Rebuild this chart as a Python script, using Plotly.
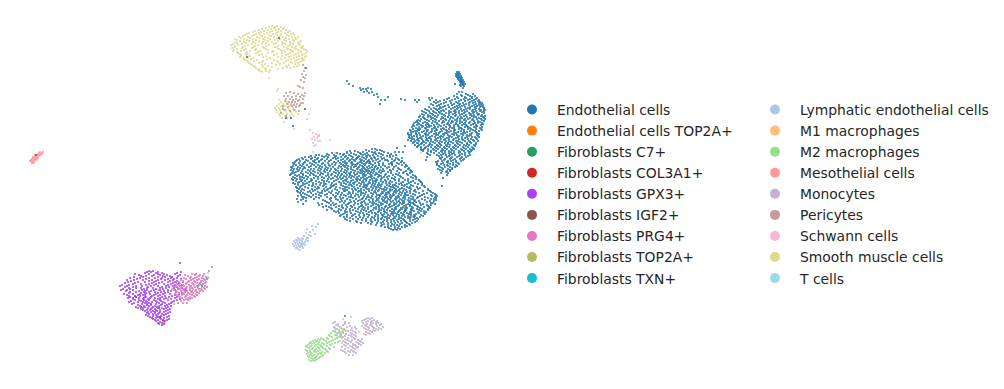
import plotly.graph_objects as go

LEFT_LEGEND = ["Endothelial cells", "Endothelial cells TOP2A+", "Fibroblasts C7+", "Fibroblasts COL3A1+",
               "Fibroblasts GPX3+", "Fibroblasts IGF2+", "Fibroblasts PRG4+", "Fibroblasts TOP2A+", "Fibroblasts TXN+"]
RIGHT_LEGEND = ["Lymphatic endothelial cells", "M1 macrophages", "M2 macrophages", "Mesothelial cells",
                "Monocytes", "Pericytes", "Schwann cells", "Smooth muscle cells", "T cells"]
COLORS = {"Endothelial cells": "#1f77b4", "Endothelial cells TOP2A+": "#ff7f0e", "Fibroblasts C7+": "#279e68",
          "Fibroblasts COL3A1+": "#d62728", "Fibroblasts GPX3+": "#aa40fc", "Fibroblasts IGF2+": "#8c564b",
          "Fibroblasts PRG4+": "#e377c2", "Fibroblasts TOP2A+": "#b5bd61", "Fibroblasts TXN+": "#17becf",
          "Lymphatic endothelial cells": "#aec7e8", "M1 macrophages": "#ffbb78", "M2 macrophages": "#98df8a",
          "Mesothelial cells": "#ff9896", "Monocytes": "#c5b0d5", "Pericytes": "#c49c94", "Schwann cells": "#f7b6d2",
          "Smooth muscle cells": "#dbdb8d", "T cells": "#9edae5"}

# (umap2, [umap1...]) rows
ENDO_LOWER = [
 (150,[366,377,380]),
 (152,[347,358,363,372,375,384,403]),
 (154,[327,340,344,354,361,365,376,381,391]),
 (156,[311,322,326,336,346,351,359,366,370,378,387,393]),
 (158,[302,312,318,333,338,348,357,364,371,375,384,396]),
 (160,[297,306,315,321,331,341,350,354,362,369,376,385,395,399]),
 (162,[295,305,314,319,334,343,352,360,367,370,378,392,401]),
 (164,[294,303,312,322,332,341,353,357,364,371,379,389,399]),
 (166,[293,302,311,320,330,339,348,356,362,369,376,385,396,407]),
 (168,[292,300,305,319,328,338,347,358,364,370,378,387,398,409]),
 (170,[291,299,308,318,327,336,345,353,360,366,372,380,390,401,410]),
 (172,[296,306,315,325,334,344,351,358,365,371,379,388,404,412]),
 (174,[291,303,313,323,332,342,350,357,364,370,377,386,396,407]),
 (176,[297,306,316,326,335,344,352,359,365,372,380,389,400,415]),
 (178,[295,304,314,324,333,343,351,361,367,374,382,392,403,413]),
 (180,[293,302,312,322,336,345,353,360,370,377,385,395,405,419]),
 (182,[299,309,319,329,339,348,355,362,369,376,383,392,403,411,421]),
 (184,[295,305,316,326,336,346,354,361,368,375,382,390,399,407,418]),
 (186,[301,312,323,333,343,352,360,367,374,381,389,396,404,413,424]),
 (188,[297,308,319,330,340,349,358,366,373,380,387,394,402,409,420]),
 (190,[304,315,327,337,347,356,364,372,379,386,392,399,406,415,428]),
 (192,[298,308,318,329,339,349,358,366,374,382,388,394,400,407,416,431]),
 (194,[305,316,327,338,348,356,365,373,381,387,393,399,405,413,424,435]),
 (196,[298,309,321,336,346,355,364,372,380,386,392,398,404,411,420,432,437]),
 (198,[306,319,331,343,353,363,371,379,385,391,397,403,409,417,428,436]),
 (200,[301,323,338,350,360,369,378,384,390,396,402,408,415,425,436]),
 (202,[298,327,340,351,362,370,379,385,391,397,403,409,416,427]),
 (204,[303,322,336,348,358,368,376,383,390,396,402,408,414,423,435]),
 (206,[326,339,351,361,371,379,386,392,398,404,410,417,428]),
 (208,[331,343,355,365,374,382,388,395,401,407,413,420,430]),
 (210,[327,341,353,364,373,381,387,394,400,406,412,419,428]),
 (212,[336,347,358,369,378,385,392,398,404,410,418,426]),
 (214,[343,355,367,376,384,391,397,403,409,416,425]),
 (216,[340,352,364,375,383,390,396,402,408,415,423]),
 (218,[350,363,374,382,389,395,401,408,417]),
 (220,[347,362,375,384,391,397,404,413]),
 (222,[357,372,383,391,398,406,415]),
 (224,[371,384,392,400,409]),
 (226,[381,391,399,407]),
 (228,[389,398]),
 (230,[393,397]),
]
ENDO_LOWER_ODD = [
 (149,[372,375]),(151,[350,355,369,382]),(153,[332,337,347,351,360,367,374,379,388]),
 (155,[316,319,329,334,343,349,356,363,368,373,383,396]),
 (157,[305,309,315,324,328,335,341,345,353,358,362,367,374,381,390]),
 (159,[299,303,311,317,322,327,336,343,347,352,356,360,366,372,378,382,392,398]),
 (161,[296,300,308,313,319,325,329,338,345,349,355,361,364,368,373,380,388,394,402]),
 (163,[293,299,304,310,316,323,328,336,340,347,351,358,362,366,369,375,383,391,397,404]),
 (165,[296,300,307,314,318,325,329,335,343,346,352,355,360,365,373,379,383,392,402,406]),
 (167,[291,298,304,309,316,322,326,333,341,345,351,354,359,363,367,372,375,381,389,394,405]),
 (169,[294,297,303,311,314,321,325,331,335,342,348,351,357,362,365,368,374,377,383,393,399,408]),
 (171,[293,298,302,310,313,320,324,330,338,341,347,355,361,363,367,369,374,382,384,391,397,406,411]),
 (173,[292,294,301,308,311,318,321,328,336,339,346,349,354,360,362,368,373,376,381,391,399,403,410]),
 (175,[290,295,299,303,310,314,320,328,331,338,341,347,350,355,363,366,371,375,379,385,393,398,408,413]),
 (177,[293,300,302,308,318,322,329,337,340,346,349,354,357,363,369,371,378,384,387,395,401,411,416]),
 (179,[292,297,300,307,311,318,328,331,338,341,347,356,358,364,366,372,376,381,388,394,399,408,416]),
 (181,[296,301,305,311,316,324,327,334,343,346,351,357,363,366,373,375,381,386,390,399,408,413,420]),
 (183,[293,298,303,307,313,321,324,332,341,344,350,353,359,364,370,373,379,386,389,396,401,409,415,422]),
 (185,[298,303,309,313,320,324,331,334,341,349,351,357,364,366,372,378,380,387,393,395,402,405,411,422]),
 (187,[296,300,305,315,318,326,331,336,345,347,354,363,365,371,376,378,385,391,393,398,407,410,417,425]),
 (189,[299,302,312,317,324,328,335,343,345,352,355,361,367,369,376,382,384,390,396,400,404,411,418,428]),
 (191,[297,301,310,313,322,325,332,344,345,353,359,361,369,375,378,384,390,395,397,403,410,414,423,430]),
 (193,[300,303,311,320,322,331,336,342,350,353,361,363,371,376,383,386,389,396,402,405,410,419,427,433]),
 (195,[301,307,313,319,325,333,341,344,351,358,361,368,377,379,385,390,394,401,406,408,415,422,431,436]),
 (197,[302,304,311,316,327,335,340,349,351,359,367,369,376,383,387,390,396,399,405,413,418,425,435]),
 (199,[297,303,314,330,336,341,347,356,362,366,373,377,382,388,395,400,405,411,413,422,431,434]),
 (201,[306,325,331,342,345,354,358,364,373,376,383,387,393,399,404,410,414,419,430,434]),
 (203,[318,329,333,344,349,355,361,365,372,374,381,387,394,400,404,411,413,420,431,433]),
 (205,[319,331,334,342,346,354,362,366,373,378,381,389,394,399,406,410,415,421,427,431]),
 (207,[323,329,336,342,347,352,359,363,368,376,379,385,390,396,403,406,412,418,424,429]),
 (209,[332,339,346,350,358,362,368,376,379,384,392,396,402,405,411,417,422,428]),
 (211,[334,338,345,350,356,361,366,371,379,384,390,394,399,405,411,414,421,424]),
 (213,[339,345,351,360,363,372,375,381,387,393,395,401,407,411,419,424]),
 (215,[341,347,353,359,364,369,378,382,388,393,399,404,411,414,421]),
 (217,[344,347,356,360,368,372,378,385,387,394,399,405,410,414,420]),
 (219,[345,353,358,366,371,378,381,387,393,399,403,410,415,418]),
 (221,[350,356,366,371,378,387,394,401,405,410,417]),
 (223,[361,368,377,381,388,395,402,407,412]),
 (225,[376,382,388,394,397,405,410]),
 (227,[385,388,395,402,405]),
 (229,[391,395,400]),
]
ENDO_UPPER = [
 (72,[457,459]),(74,[456,458,460]),(76,[456,458,461]),(78,[458,460,462]),(80,[459,461,463]),(82,[460,462,464]),
 (84,[455,461,463,465]),(86,[461,464]),(88,[463]),(92,[459,462]),(94,[457,466,473]),(96,[454,462,470,475]),
 (98,[429,432,449,458,466,472,477]),(100,[405,415,419,430,436,444,452,461,468,474,479]),
 (102,[417,434,438,446,456,470,475,480]),(104,[431,441,454,460,466,476,481]),
 (106,[437,445,457,462,472,477,481]),(108,[434,441,453,458,468,476,484]),
 (110,[427,437,443,455,464,473,481,485]),
 (112,[424,434,439,451,456,465,474,482]),
 (114,[422,432,442,453,462,471,479]),
 (116,[420,430,435,445,455,464,472,481,485]),
 (118,[424,433,443,453,462,470,479,484]),
 (120,[418,427,436,446,455,464,472,482]),
 (122,[416,425,435,444,453,462,470,480]),
 (124,[419,428,437,447,456,464,473,483]),
 (126,[414,423,431,441,450,458,467,477]),
 (128,[416,425,434,443,452,461,470,480]),
 (130,[410,419,428,437,446,455,464,473,482]),
 (132,[413,422,431,440,449,458,467,476]),
 (134,[408,416,425,434,443,452,461,470,479]),
 (136,[414,423,432,441,450,459,469,478]),
 (138,[410,420,429,438,447,456,465,476]),
 (140,[417,426,435,444,453,463,473]),
 (142,[414,424,433,442,451,460,470]),
 (144,[421,430,440,448,458,467,476]),
 (146,[418,428,438,447,456,466,475]),
 (148,[425,436,445,454,464,473]),
 (150,[423,434,443,452,462,472]),
 (152,[431,442,451,460,470]),
 (154,[428,443,452,462]),
 (156,[439,449,459,468]),
 (158,[440,451,461]),
 (160,[426,444,453,463]),
 (162,[436,447,456]),
 (164,[441,450,459]),
 (166,[439,448,457]),
 (168,[442,452]),
 (170,[440,450]),
 (172,[446]),
 (175,[447]),(178,[443]),(186,[442]),
]
ENDO_UPPER_ODD = [
 (73,[458]),(75,[457,459]),(77,[457,459,461]),(79,[458,461]),(81,[460,462]),(83,[461,463]),(85,[460,463]),
 (95,[461,468]),(97,[457,465,472]),(99,[447,455,464,470,476]),(101,[440,450,459,465,472,478]),
 (103,[436,444,451,458,463,469,473,479,482]),(105,[433,439,448,452,459,464,469,474,479,483]),
 (107,[429,440,443,449,455,460,465,470,475,480,483]),(109,[425,431,436,439,446,451,457,461,466,470,475,479,484]),
 (111,[422,429,433,441,444,449,454,459,462,467,472,476,480,484]),
 (113,[426,430,436,440,446,449,455,459,464,469,473,477,484]),
 (115,[424,428,433,438,444,449,456,460,466,470,474,478,482]),
 (117,[419,423,428,431,437,442,448,451,458,461,467,474,476,483]),
 (119,[421,425,431,435,441,445,450,457,460,465,468,473,477,481,485]),
 (121,[417,420,429,433,439,443,449,452,457,460,466,474,478,484]),
 (123,[414,418,423,427,432,437,442,448,451,456,460,465,469,475,478,482]),
 (125,[413,417,421,426,429,434,439,444,449,454,458,462,466,471,476,481]),
 (127,[412,419,422,427,429,435,438,446,450,454,459,465,468,474,476,482]),
 (129,[413,418,420,426,432,436,441,444,449,454,459,462,468,471,476,481]),
 (131,[411,415,417,424,427,432,435,442,447,451,454,461,464,470,475,479]),
 (133,[408,411,416,419,426,429,436,439,445,447,454,456,463,465,472,477]),
 (135,[409,411,417,420,426,428,436,438,444,448,454,457,463,467,471,477]),
 (137,[409,412,417,421,426,430,435,440,443,449,452,458,462,467,472,475,479]),
 (139,[412,414,418,422,427,431,436,441,445,449,454,459,462,468,471,477]),
 (141,[411,415,419,423,428,431,437,440,446,449,456,458,465,469,474,478]),
 (143,[413,417,422,426,430,435,439,445,448,453,457,462,467,471,476]),
 (145,[415,419,424,429,432,437,441,446,450,455,460,464,469,474]),
 (147,[417,421,426,431,435,440,444,449,453,458,463,468,472]),
 (149,[421,424,428,433,438,442,447,451,456,461,466,470,474]),
 (151,[423,428,431,436,441,445,449,454,459,464,468,471]),
 (153,[427,434,439,445,449,454,459,465,469]),
 (155,[430,437,441,446,450,455,460,465,470]),
 (157,[427,442,447,452,457,462,466]),
 (159,[441,445,450,455,460,464]),
 (161,[438,442,448,451,456,461]),
 (163,[437,443,448,453,458]),
 (165,[437,444,447,453,456]),
 (167,[440,445,450,455]),
 (169,[438,443,448,452]),
 (171,[442,447,450]),
 (173,[441,448]),
]
# isolated endothelial points along the thin streak and stray cells in other clusters
ENDO_STRAY_X = [347,349,353,360,361,363,364,366,367,368,369,371,372,374,377,378,381,385,388,401,380,279,247,306,286,291,293,305,36,
                 357,345,344,421,405,418,397,408,395,390,387,392,399,402]
ENDO_STRAY_Y = [81,84,86,88,90,89,92,89,91,88,93,89,92,95,94,97,100,100,97,99,104,38,57,68,118,118,126,109,155,
                 158,163,166,150,146,143,148,140,152,155,160,164,152,158]

ENDO_TOP_X = [404,412]; ENDO_TOP_Y = [207,217]
C7_X = [381,345]; C7_Y = [176,316]
COL3A1_X = [160,163]; COL3A1_Y = [317,321]
TXN_X = [198,202,207,176]; TXN_Y = [286,286,279,282]
TOP2A_X = [158,172,177,168,174,178,163]; TOP2A_Y = [290,289,295,299,304,303,322]
IGF2_X = [136,141,159,178]; IGF2_Y = [297,307,308,303]

GPX3_ROWS = [
 (271,[149,153]),(273,[145,156,162,177]),(275,[139,154,160,167,180]),
 (277,[134,143,158,165,172]),(279,[137,146,161,168,174,181]),
 (281,[131,149,156,170,177]),(283,[125,135,152,159,173,179]),
 (285,[122,129,146,154,168,175,182]),(287,[125,133,148,162,169,177]),
 (289,[123,130,144,156,163,178,186]),(291,[126,139,145,151,164,171,186]),
 (293,[129,141,146,158,165,182]),(295,[127,138,143,154,160,175]),
 (297,[130,136,146,151,162,169,177]),(299,[133,143,148,158,164,171,180]),
 (301,[131,141,146,156,161,174]),(303,[134,145,149,159,165,171]),
 (305,[138,147,151,161,167]),(307,[136,145,153,157,168]),
 (309,[141,151,155,164,170]),(311,[145,153,157,166]),
 (313,[147,155,159,168]),(315,[146,156,164]),
 (317,[150,158,167]),(319,[153,161,169]),(321,[156,165]),(323,[158,162]),(325,[162]),
 (263,[180]),
]
GPX3_EVEN = [
 (272,[147,151,158,181]),(274,[135,149,158,164,175]),(276,[141,146,152,163,170,178]),
 (278,[130,140,149,155,162,171,177]),(280,[127,134,143,152,158,165,173]),
 (282,[128,138,145,154,162,168,175,183]),(284,[133,141,149,156,164,171,178]),
 (286,[120,127,136,142,151,158,166,173,180]),(288,[129,136,141,147,153,160,166,174,182]),
 (290,[121,127,133,142,147,154,160,168,175,184]),(292,[130,136,144,149,155,161,168,176]),
 (294,[124,133,140,145,150,156,163,170,179]),(296,[129,135,140,145,152,158,165,172]),
 (298,[128,133,139,144,150,155,160,166,175]),(300,[135,139,144,149,154,160,168,177]),
 (302,[129,138,143,147,152,157,163,172]),(304,[132,142,147,151,156,162,169]),
 (306,[140,144,149,155,159,165,171]),(308,[138,143,148,152,158,162,166]),
 (310,[143,147,150,156,160,168]),(312,[148,151,155,160,164,170]),
 (314,[149,153,158,162,166]),(316,[148,153,157,161,169]),(318,[152,156,160,164]),
 (320,[155,158,163,167]),(322,[160,164]),(324,[159,164]),
]
PRG4_ROWS = [
 (267,[212]),(271,[209]),(274,[192,196,204]),(276,[188,199,203]),(278,[184,190,195,202,208]),
 (280,[181,191,197,205]),(282,[179,188,195,201,206]),
 (284,[177,186,193,199,203]),(286,[176,184,191,197,205]),
 (288,[178,186,192,198,204]),(290,[174,183,190,196,202]),
 (292,[177,185,191,197]),(294,[175,184,190,196]),(296,[179,186,194]),
 (298,[182,188,192]),(300,[184,188]),(303,[183,187]),
 (275,[185,195,200]),(277,[191,197,206]),(279,[186,193,199,204]),(281,[183,189,194,201,203]),
 (283,[180,186,192,197,200,205]),(285,[179,183,189,194,200,202]),(287,[175,181,187,190,195,202,207]),
 (289,[180,184,190,193,199,201,205]),(291,[176,181,187,192,195,200,203]),(293,[179,183,188,193,199]),
 (295,[177,182,187,192,197]),(297,[180,185,190,195]),(299,[186,190]),(301,[181]),
]
LYMPH_X = [318,316,313,312,310,315,307,309,306,311,304,308,303,306,301,305,299,303,307,297,300,302,305,295,298,301,304,
           296,299,302,294,297,300,303,296,298,301,299,302,300,298,304,308,296,294,293,302,300,297]
LYMPH_Y = [224,227,230,226,232,234,229,235,233,236,236,238,239,240,240,242,241,243,238,242,243,244,245,243,244,245,244,
           245,246,246,246,247,247,248,248,249,243,239,238,250,238,236,241,240,241,244,241,247,240]
M1_X = [343,342,359,366,346]; M1_Y = [330,337,332,332,331]
M2_ROWS = [
 (327,[340]),(329,[336,342]),(331,[333,339]),(333,[331,337,343]),(335,[329,335,340]),(337,[332,338,343]),
 (339,[318,323,328,335]),(341,[313,317,326,331,340]),(343,[310,314,322,327,335,342]),
 (345,[308,316,320,330,353]),(347,[307,310,318,322,334]),(349,[312,316,325,330]),
 (351,[307,314,318,327]),(353,[308,312,320,325]),(355,[310,314,323]),
 (357,[309,316,320]),(359,[313,317]),(361,[311,314]),
 (332,[335,341]),(336,[330,341]),(338,[321,327,337]),(340,[315,320,324,333]),(342,[311,316,319,329,338]),
 (344,[309,312,318,324,332]),(346,[306,311,315,321,327]),(348,[309,313,319,323,329]),(350,[306,310,315,320,326]),
 (352,[310,316,322,328]),(354,[307,311,318,321]),(356,[308,312,317,322]),(358,[311,315,319]),(360,[309,313,316]),
]
MONO_ROWS = [
 (318,[368,372]),(320,[364,374]),(322,[335,345,366,371,376]),(323,[333,349,363,373,378]),
 (325,[336,343,365,370,380]),(327,[334,347,355,368,373,383]),
 (329,[337,344,356,366,376,381]),(331,[335,348,353,370,375]),(333,[339,351,356,368]),
 (335,[337,349,354,366]),(337,[340,352]),(339,[345,355,362]),(341,[343,349,360]),
 (343,[346,358,363]),(345,[344,355,361]),(347,[342,352,358]),(349,[345,355]),
 (351,[343,348,353]),(353,[346,356]),(355,[349,353]),
 (319,[366,370]),(321,[362,368,372,377]),(324,[338,345,367,371,376,381]),(326,[338,350,362,366,372,377]),
 (328,[335,341,352,364,369,374,379]),(330,[339,345,351,368,373,378]),(332,[343,355,366,372]),
 (334,[341,346,352,364,370]),(336,[345,351,356]),(338,[342,348,354]),(340,[347,352,358]),
 (342,[345,351,356,361]),(344,[348,353,359]),(346,[346,350,356]),(348,[348,353,357]),(350,[341,351]),(352,[345,350,354]),
]
MESO_X = [43,41,39,42,40,38,36,39,37,35,38,34,36,33,35,32,34,31,33,36,31,34,30,33,32,38,40,37,35,33]
MESO_Y = [152,153,153,154,155,154,156,156,157,156,158,157,158,158,159,159,160,160,161,160,161,162,161,163,163,155,152,159,155,157]
PERI_X = [303,305,304,302,306,303,305,301,304,298,300,303,286,290,294,298,302,305,284,288,292,296,300,304,
          286,290,293,296,299,303,285,289,292,295,298,301,287,291,294,297,300,283,288,292,296,299,283,285,290,294,281,286,303,299]
PERI_Y = [65,68,71,74,75,77,78,80,82,86,87,88,93,92,93,94,95,93,96,96,97,96,97,96,
          99,99,100,99,100,99,101,102,102,102,101,103,104,104,105,104,105,106,107,106,107,106,109,110,111,110,113,116,103,111]
SCHWANN_X = [307,310,313,316,318,314,317,319,312,315,318,320,313,316,330,319,313,335,403,421,293,309,314]
SCHWANN_Y = [119,130,133,134,136,137,138,136,139,140,141,141,143,145,140,135,152,153,152,153,183,114,146]
SMC_ROWS = [
 (26,[272,277]),(28,[266,274,284]),(30,[259,268,276,286]),
 (32,[253,261,270,278,288]),(34,[247,256,264,273,281,291]),
 (36,[243,252,262,271,280,289]),(38,[241,250,259,268,277,286,295]),
 (40,[237,247,256,265,275,284,293]),(42,[235,244,253,263,272,282,290,299]),
 (44,[233,242,252,262,274,285,293,300]),(46,[235,245,255,266,278,288,296,303]),
 (48,[232,242,252,264,277,287,295,302]),(50,[234,244,255,268,281,290,298,306]),
 (52,[237,247,258,272,285,293,301]),(54,[240,248,262,277,288,296,304]),
 (56,[241,250,266,282,291,299,306]),(58,[243,253,270,285,294,302]),
 (60,[245,257,274,288,297,304]),(62,[248,262,278,291,300]),
 (64,[251,265,280,295]),(66,[254,268,286,297]),(68,[256,266,283,290]),
 (70,[258,270]),(72,[262,269]),(78,[269]),
 (89,[278]),(91,[277]),(100,[279,293]),(102,[281,287,292]),(104,[279,283,288,294]),(106,[277,281,285,290,296]),
 (108,[275,279,283,288,293]),(110,[276,280,284,289,295]),(112,[277,281,286,291,296]),(114,[279,283,287,292,298]),
 (116,[280,285,290,294]),(118,[282,287]),(122,[284]),(129,[294]),
 (27,[269,275,281]),(29,[262,271,279,283]),(31,[255,264,272,281,290]),(33,[249,259,267,276,285,293]),
 (35,[245,254,260,269,277,287,294]),(37,[239,248,257,265,274,283,292,298]),(39,[235,244,253,263,270,280,289,296]),
 (41,[240,249,259,268,278,286,294,301]),(43,[237,246,255,266,276,283,291,298]),(45,[231,238,248,258,269,282,290,299]),
 (47,[234,243,253,263,275,284,292,301]),(49,[237,246,256,266,279,288,296,304]),(51,[233,241,250,260,273,283,292,300,307]),
 (53,[238,246,256,268,282,290,298,306]),(55,[241,246,259,274,286,294,302]),(57,[240,248,263,278,289,297,305]),
 (59,[244,251,267,281,291,299,303]),(61,[247,254,263,277,286,295,302]),(63,[249,259,272,284,292,298]),
 (65,[252,262,276,289,299]),(67,[255,263,272,287,294]),(69,[259,265,278]),(71,[260,266]),
]
T_CELLS_X = [351,343,208]; T_CELLS_Y = [317,319,273]


def expand(rows):
    xs, ys = [], []
    for y, row in rows:
        for x in row:
            xs.append(x)
            ys.append(y)
    return xs, ys


endo_x, endo_y = expand(ENDO_LOWER + ENDO_LOWER_ODD + ENDO_UPPER + ENDO_UPPER_ODD)
endo_x += ENDO_STRAY_X
endo_y += ENDO_STRAY_Y
gx, gy = expand(GPX3_ROWS + GPX3_EVEN)
px, py = expand(PRG4_ROWS)
m2x, m2y = expand(M2_ROWS)
mox, moy = expand(MONO_ROWS)
smx, smy = expand(SMC_ROWS)

POINTS = {
    "Lymphatic endothelial cells": (LYMPH_X, LYMPH_Y),
    "Mesothelial cells": (MESO_X, MESO_Y),
    "Smooth muscle cells": (smx, smy),
    "Pericytes": (PERI_X, PERI_Y),
    "Schwann cells": (SCHWANN_X, SCHWANN_Y),
    "Monocytes": (mox, moy),
    "M2 macrophages": (m2x, m2y),
    "Fibroblasts GPX3+": (gx, gy),
    "Fibroblasts PRG4+": (px, py),
    "Endothelial cells": (endo_x, endo_y),
    "Endothelial cells TOP2A+": (ENDO_TOP_X, ENDO_TOP_Y),
    "Fibroblasts C7+": (C7_X, C7_Y),
    "Fibroblasts COL3A1+": (COL3A1_X, COL3A1_Y),
    "Fibroblasts IGF2+": (IGF2_X, IGF2_Y),
    "Fibroblasts TOP2A+": (TOP2A_X, TOP2A_Y),
    "Fibroblasts TXN+": (TXN_X, TXN_Y),
    "M1 macrophages": (M1_X, M1_Y),
    "T cells": (T_CELLS_X, T_CELLS_Y),
}

fig = go.Figure()
for name, (x, y) in POINTS.items():
    fig.add_trace(go.Scatter(x=x, y=y, mode="markers", name=name, showlegend=False, legendgroup=name,
                             marker=dict(color=COLORS[name], size=2.15, line=dict(width=0)), hoverinfo="name"))
for legend_id, names in (("legend", LEFT_LEGEND), ("legend2", RIGHT_LEGEND)):
    for name in names:
        fig.add_trace(go.Scatter(x=[None], y=[None], mode="markers", name=name, legend=legend_id, legendgroup=name,
                                 marker=dict(color=COLORS[name], size=10)))

legend_style = dict(font=dict(family="DejaVu Sans", size=13.9, color="#262626"), itemwidth=40,
                    bgcolor="rgba(0,0,0,0)", borderwidth=0, xanchor="left", yanchor="top", y=1 - 94 / 389,
                    tracegroupgap=0, traceorder="normal", itemclick=False, itemdoubleclick=False)
fig.update_layout(
    width=1004, height=389, margin=dict(l=0, r=0, t=0, b=0), paper_bgcolor="white", plot_bgcolor="white",
    xaxis=dict(range=[0, 1004], visible=False, fixedrange=True),
    yaxis=dict(range=[389, 0], visible=False, fixedrange=True),
    legend=dict(x=507 / 1004, **legend_style),
    legend2=dict(x=750 / 1004, **legend_style),
)
fig.write_html("out.html", config=dict(displayModeBar=False),
               post_script="document.body.style.margin='0';document.documentElement.style.overflow='hidden';")
